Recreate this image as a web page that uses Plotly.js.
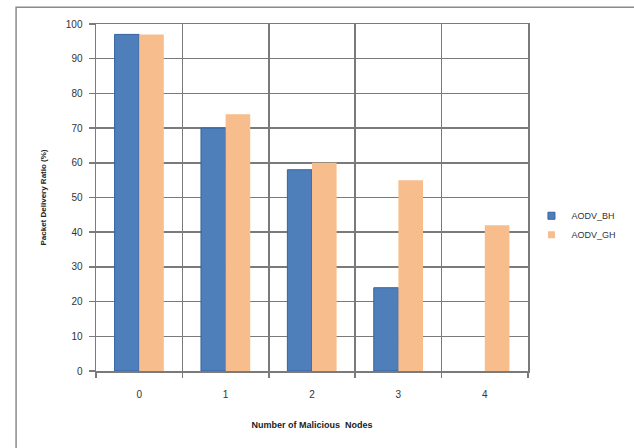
<!DOCTYPE html>
<html>
<head>
<meta charset="utf-8">
<script src="https://cdn.plot.ly/plotly-3.0.1.min.js"></script>
<style>
  html, body { margin: 0; padding: 0; background: #fff; }
  #chart { width: 634px; height: 448px; }
</style>
</head>
<body>
<div id="chart"></div>
<script>
// Packet delivery ratio versus number of malicious nodes
const nodes = ["0", "1", "2", "3", "4"];
const seriesNames = ["AODV_BH", "AODV_GH"];
const aodvBH = [97, 70, 58, 24, null];
const aodvGH = [97, 74, 60, 55, 42];
const yTicks = [0, 10, 20, 30, 40, 50, 60, 70, 80, 90, 100];

const blue = "#4f7fbb";
const orange = "#f8bd8c";
const font = { family: "Liberation Sans, Arial, sans-serif", size: 10, color: "#333" };
const gridColor = "#7a7a7a";

const traces = [
  {
    type: "bar", name: seriesNames[0], x: nodes, y: aodvBH, showlegend: false,
    marker: { color: blue, line: { color: "#35639e", width: 1 } }
  },
  {
    type: "bar", name: seriesNames[1], x: nodes, y: aodvGH, showlegend: false,
    marker: { color: orange, line: { width: 0 } }
  },
  // small square legend keys
  {
    type: "scatter", mode: "markers", name: seriesNames[0], x: [null], y: [null],
    marker: { symbol: "square", size: 7, color: blue, line: { color: "#35639e", width: 1 } }
  },
  {
    type: "scatter", mode: "markers", name: seriesNames[1], x: [null], y: [null],
    marker: { symbol: "square", size: 7, color: orange }
  }
];

const layout = {
  width: 634, height: 448,
  margin: { l: 96, r: 106, t: 24, b: 77, autoexpand: false },
  paper_bgcolor: "#fff", plot_bgcolor: "#fff",
  font: font,
  barmode: "group",
  bargap: 0.43, bargroupgap: 0,
  showlegend: true,
  legend: {
    x: 1.008, y: 0.42, xanchor: "left", yanchor: "middle",
    bgcolor: "rgba(0,0,0,0)",
    font: { family: font.family, size: 9, color: "#333" },
    itemwidth: 30, tracegroupgap: 6
  },
  xaxis: {
    type: "category",
    tickson: "boundaries",
    showgrid: true, gridcolor: gridColor, gridwidth: 1.5,
    showline: true, linecolor: gridColor, linewidth: 1.5, mirror: true,
    ticks: "outside", ticklen: 5, tickcolor: gridColor, tickwidth: 1.5,
    ticklabelstandoff: 13,
    tickfont: { size: 10, color: "#333" },
    title: { text: "<b>Number of Malicious  Nodes</b>", standoff: 23, font: { size: 9, color: "#222" } }
  },
  yaxis: {
    range: [0, 100],
    tickvals: yTicks,
    showgrid: true, gridcolor: gridColor, gridwidth: 1.5,
    showline: true, linecolor: gridColor, linewidth: 1.5, mirror: true,
    ticks: "outside", ticklen: 6, tickcolor: gridColor, tickwidth: 1.5,
    ticklabelstandoff: 4,
    tickfont: { size: 10, color: "#333" },
    zeroline: false,
    title: { text: "<b>Packet Delivery Ratio (%)</b>", standoff: 18, font: { size: 8, color: "#222" } }
  },
  shapes: [
    {
      type: "rect", xref: "paper", yref: "paper",
      x0: -0.185, x1: 1.3, y0: -0.3, y1: 1.048,
      line: { color: "#8a8a8a", width: 1.5 }, fillcolor: "rgba(0,0,0,0)", layer: "below"
    }
  ]
};

Plotly.newPlot("chart", traces, layout, { staticPlot: true, displayModeBar: false });
</script>
</body>
</html>
